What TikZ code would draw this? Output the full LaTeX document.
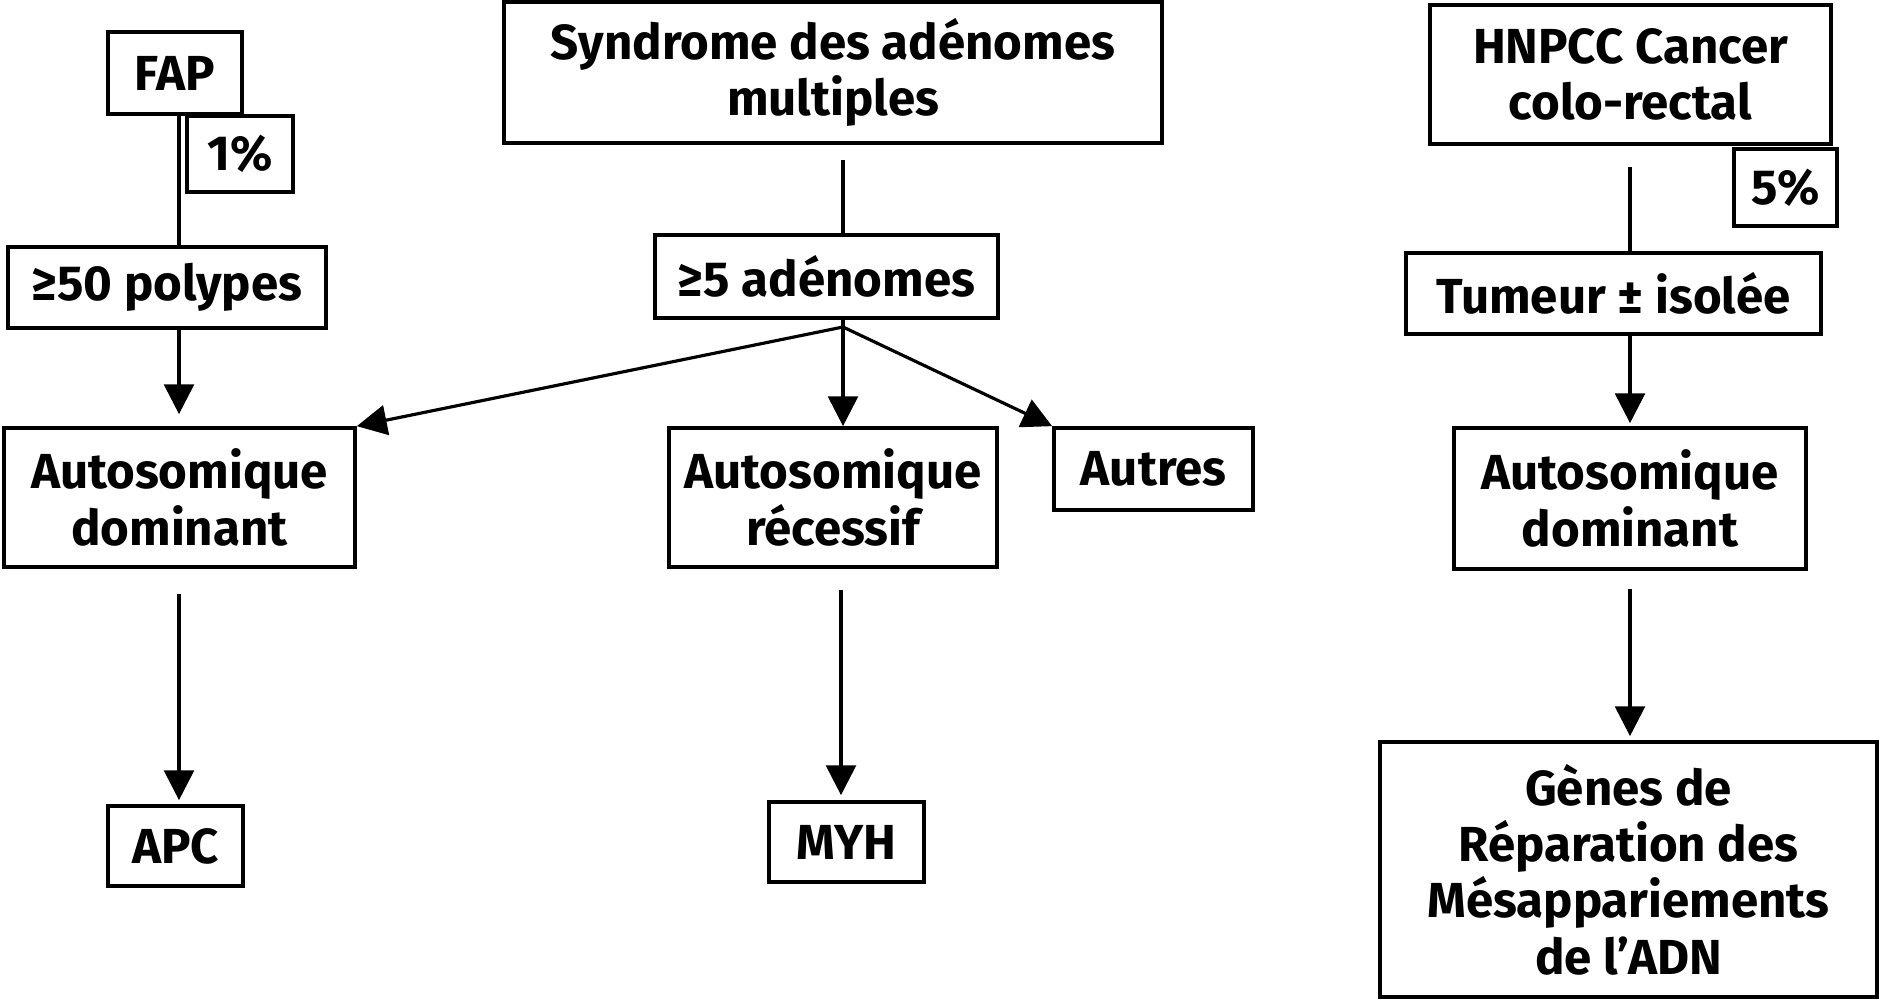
\documentclass[tikz,border=0pt]{standalone}
\usepackage{fontspec}
\setmainfont{Fira Sans}
\usetikzlibrary{arrows.meta}
\begin{document}
\begin{tikzpicture}[x=0.01cm,y=-0.01cm,
  box/.style={draw, line width=1.05pt, align=center, inner sep=0pt,
    font=\fontsize{14}{16}\selectfont\bfseries},
  sz/.style 2 args={minimum width=#1*0.01cm, minimum height=#2*0.01cm},
  conn/.style={line width=0.9pt},
  arr/.style={conn, -{Triangle[length=8.5pt,width=8.5pt]}}]
\useasboundingbox (0,0) rectangle (1879,1000);

% left column: FAP
\node[box, sz={134}{82}] (FAP) at (175,73) {FAP};
\node[box, sz={106}{76}] (p1) at (240,154) {1\%};
\node[box, sz={318}{81}] (poly) at (167,287.5) {≥50 polypes};
\node[box, sz={351}{139}] (AD1) at (179.5,497.5) {Autosomique\\dominant};
\node[box, sz={135}{80}] (APC) at (175.5,846) {APC};

% middle column: multiple adenomas
\node[box, sz={658}{141}] (SYN) at (833,72.5) {Syndrome des adénomes\\multiples};
\node[box, sz={343}{83}] (AD5) at (826.5,276.5) {≥5 adénomes};
\node[box, sz={328}{139}] (AR) at (833,497.5) {Autosomique\\récessif};
\node[box, sz={199}{82}] (AUT) at (1153.5,469) {Autres};
\node[box, sz={155}{80}] (MYH) at (846.5,842) {MYH};

% right column: HNPCC
\node[box, sz={401}{139}] (HNP) at (1630.5,74.5) {HNPCC Cancer\\colo-rectal};
\node[box, sz={103}{77}] (p5) at (1785.5,187.5) {5\%};
\node[box, sz={415}{81}] (TUM) at (1613.5,293.5) {Tumeur ± isolée};
\node[box, sz={352}{141}] (AD2) at (1630,498.5) {Autosomique\\dominant};
\node[box, sz={497}{255}] (GEN) at (1628.5,869.5) {Gènes de\\Réparation des\\Mésappariements\\de l’ADN};

% column guides and branch point
\coordinate (xa) at (179,0);
\coordinate (xb) at (843,0);
\coordinate (xm) at (841,0);
\coordinate (xc) at (1630,0);
\coordinate (br) at (843,327);

% connectors
\draw[conn] (FAP.south -| xa) -- (poly.north -| xa);
\draw[arr, shorten >=0.12cm] (poly.south -| xa) -- (AD1.north -| xa);
\draw[arr, shorten <=0.25cm, shorten >=0.04cm] (AD1.south -| xa) -- (APC.north -| xa);

\draw[conn, shorten <=0.15cm] (SYN.south -| xb) -- (AD5.north -| xb);
\draw[conn] (AD5.south -| xb) -- (br);
\draw[arr] (br) -- (AD1.north east);
\draw[arr] (br) -- (AR.north -| xb);
\draw[arr] (br) -- (AUT.north west);
\draw[arr, shorten <=0.21cm, shorten >=0.05cm] (AR.south -| xm) -- (MYH.north -| xm);

\draw[conn, shorten <=0.21cm] (HNP.south -| xc) -- (TUM.north -| xc);
\draw[arr, shorten >=0.03cm] (TUM.south -| xc) -- (AD2.north -| xc);
\draw[arr, shorten <=0.18cm, shorten >=0.04cm] (AD2.south -| xc) -- (GEN.north -| xc);
\end{tikzpicture}
\end{document}
